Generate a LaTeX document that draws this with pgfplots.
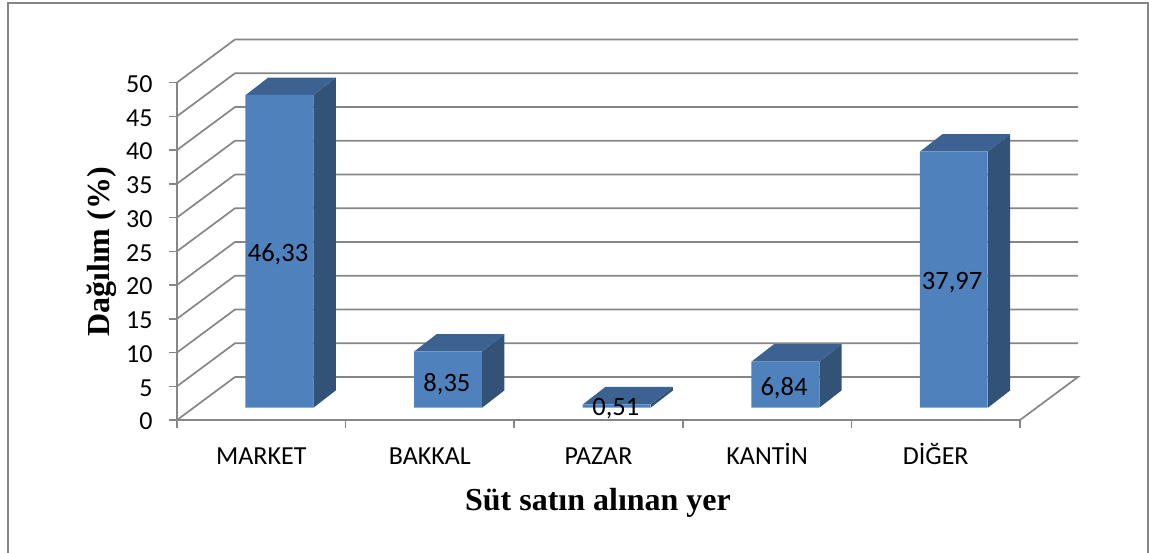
\documentclass[border=0pt]{standalone}
\usepackage{fontspec}
\setmainfont{Carlito}
\newfontfamily\serifbold[BoldFont={Liberation Serif Bold}]{Liberation Serif}
\usepackage{pgfplots}
\pgfplotsset{compat=1.18}
\usepackage{pgfplotstable}
\definecolor{gridgray}{RGB}{134,134,134}
\definecolor{barfront}{RGB}{79,129,189}
\definecolor{barside}{RGB}{50,82,120}
\definecolor{bartop}{RGB}{60,98,145}
\pgfplotstableread{
x v
1 46.33
2 8.35
3 0.51
4 6.84
5 37.97
}\bars
\pgfplotstableread{
x y label
1.099 24.6 46,33
2.101 5.38 8,35
3.103 1.63 0,51
4.100 4.74 6,84
5.097 20.3 37,97
}\labels
\begin{document}
\begin{tikzpicture}[x=1pt,y=1pt]
\path[use as bounding box] (0,0) rectangle (1149,-552);
\begin{axis}[
  at={(177pt,-420pt)}, anchor=south west,
  scale only axis, width=843pt, height=337.5pt,
  xmin=0.5, xmax=5.5, ymin=0, ymax=50,
  clip=false,
  axis lines=left,
  axis line style={-,draw=gridgray,line width=1.7pt},
  tick align=outside,
  ytick={0,5,...,50},
  xtick={1,2,3,4,5},
  xticklabels={MARKET,BAKKAL,PAZAR,KANTİN,DİĞER},
  minor xtick={0.5,1.5,2.5,3.5,4.5,5.5},
  major tick length=8pt, minor tick length=8pt,
  major x tick style={draw=none},
  minor x tick style={draw=gridgray,line width=1.5pt},
  major y tick style={draw=gridgray,line width=1.5pt},
  /pgf/number format/assume math mode=true,
  yticklabel style={font=\fontsize{26}{26}\selectfont,text=black,xshift=-13pt,yshift=-1.5pt},
  xticklabel style={font=\fontsize{26}{26}\selectfont,text=black,yshift=-15pt,text height=18pt,text depth=0pt},
  xlabel={Süt satın alınan yer},
  ylabel={Dağılım (\%)},
  xlabel style={font=\serifbold\bfseries\fontsize{32}{32}\selectfont,at={(axis description cs:0.4994,-0.244)},anchor=center},
  ylabel style={font=\serifbold\bfseries\fontsize{32}{32}\selectfont,at={(axis description cs:-0.0893,0.498)},anchor=center},
]
% walls
\addplot[gridgray,line width=1.7pt] coordinates {(0.5,0) (0.844,6.37) (5.844,6.37) (5.5,0)};
\addplot[gridgray,line width=1.7pt] coordinates {(0.5,5) (0.844,11.37) (5.844,11.37)};
\addplot[gridgray,line width=1.7pt] coordinates {(0.5,10) (0.844,16.37) (5.844,16.37)};
\addplot[gridgray,line width=1.7pt] coordinates {(0.5,15) (0.844,21.37) (5.844,21.37)};
\addplot[gridgray,line width=1.7pt] coordinates {(0.5,20) (0.844,26.37) (5.844,26.37)};
\addplot[gridgray,line width=1.7pt] coordinates {(0.5,25) (0.844,31.37) (5.844,31.37)};
\addplot[gridgray,line width=1.7pt] coordinates {(0.5,30) (0.844,36.37) (5.844,36.37)};
\addplot[gridgray,line width=1.7pt] coordinates {(0.5,35) (0.844,41.37) (5.844,41.37)};
\addplot[gridgray,line width=1.7pt] coordinates {(0.5,40) (0.844,46.37) (5.844,46.37)};
\addplot[gridgray,line width=1.7pt] coordinates {(0.5,45) (0.844,51.37) (5.844,51.37)};
\addplot[gridgray,line width=1.7pt] coordinates {(0.5,50) (0.844,56.37) (5.844,56.37)};
% side faces
\addplot[fill=barside,draw=none] coordinates {(1.3095,1.822) (1.3095,48.152) (1.4418,50.715) (1.4418,4.385)} -- cycle;
\addplot[fill=barside,draw=none] coordinates {(2.3095,1.822) (2.3095,10.172) (2.4418,12.735) (2.4418,4.385)} -- cycle;
\addplot[fill=barside,draw=none] coordinates {(3.3095,1.822) (3.3095,2.332) (3.4418,4.895) (3.4418,4.385)} -- cycle;
\addplot[fill=barside,draw=none] coordinates {(4.3095,1.822) (4.3095,8.662) (4.4418,11.225) (4.4418,4.385)} -- cycle;
\addplot[fill=barside,draw=none] coordinates {(5.3095,1.822) (5.3095,39.792) (5.4418,42.355) (5.4418,4.385)} -- cycle;
% top faces
\addplot[fill=bartop,draw=none] coordinates {(0.908,48.152) (1.3095,48.152) (1.4418,50.715) (1.0403,50.715)} -- cycle;
\addplot[fill=bartop,draw=none] coordinates {(1.908,10.172) (2.3095,10.172) (2.4418,12.735) (2.0403,12.735)} -- cycle;
\addplot[fill=bartop,draw=none] coordinates {(2.908,2.332) (3.3095,2.332) (3.4418,4.895) (3.0403,4.895)} -- cycle;
\addplot[fill=bartop,draw=none] coordinates {(3.908,8.662) (4.3095,8.662) (4.4418,11.225) (4.0403,11.225)} -- cycle;
\addplot[fill=bartop,draw=none] coordinates {(4.908,39.792) (5.3095,39.792) (5.4418,42.355) (5.0403,42.355)} -- cycle;
% front faces
\addplot[ybar,bar width=67.7pt,bar shift=18pt,fill=barfront,draw=none,yshift=12.3pt] table[x=x,y=v] {\bars};
% labels
\addplot[draw=none,mark=none,point meta=explicit symbolic,nodes near coords,
  nodes near coords style={anchor=center,font=\fontsize{26.5}{26.5}\selectfont,text=black}]
  table[x=x,y=y,meta=label] {\labels};
\end{axis}
\draw[gridgray,line width=1.7pt] (8,-3) rectangle (1148,-560);
\end{tikzpicture}
\end{document}
